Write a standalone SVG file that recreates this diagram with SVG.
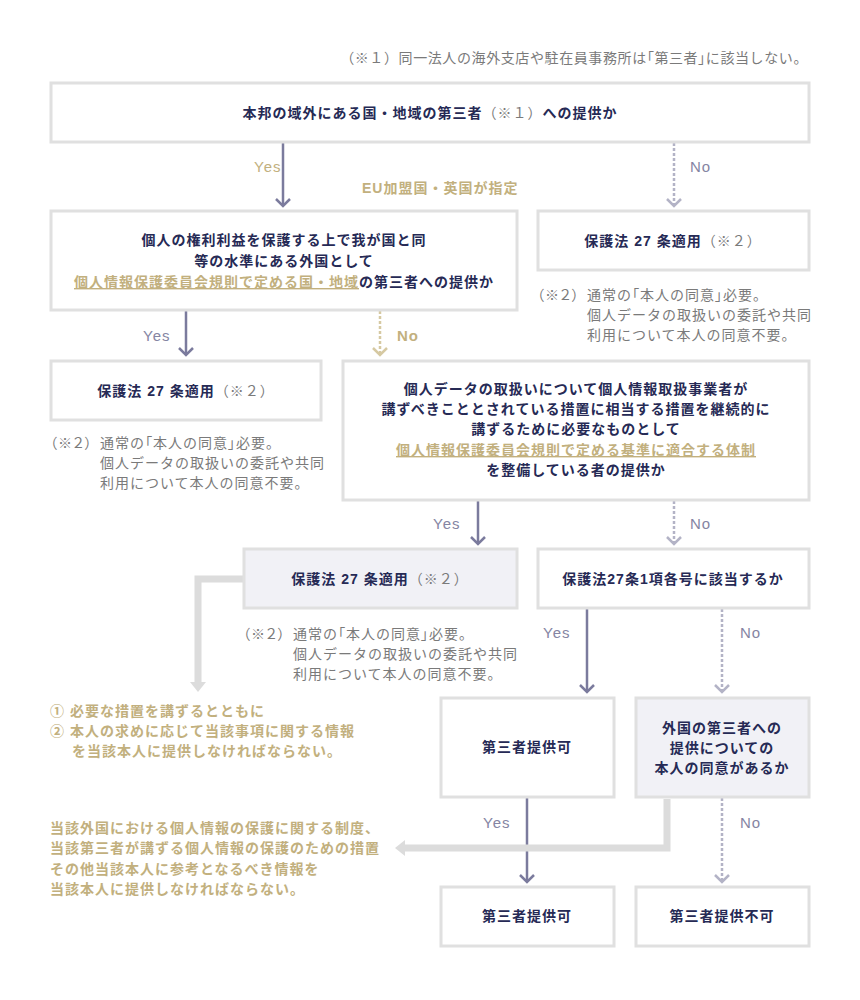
<svg xmlns="http://www.w3.org/2000/svg" width="860" height="1000" viewBox="0 0 860 1000">
<style>
text{font-family:"Liberation Sans","Noto Sans CJK JP",sans-serif;font-size:14px;letter-spacing:1px}
.b{font-weight:bold;fill:#262a55}
.c{text-anchor:middle}
.n{fill:#7a7a7a;font-weight:normal}
.g{fill:#c2b07e;font-weight:bold}
.u{text-decoration:underline}
.p{font-feature-settings:"palt"}
.lbl{font-size:15px;fill:#8585a3}
.lblg{font-size:15px;fill:#c2b07e}
.box{fill:#fff;stroke:#e0e0e0;stroke-width:3}
.fill{fill:#f1f1f6}
.sol{stroke:#7b7b9d;stroke-width:2.5;fill:none;marker-end:url(#ms)}
.dot{stroke:#b3b3c6;stroke-width:2.5;stroke-dasharray:3 2;fill:none;marker-end:url(#md)}
.dotg{stroke:#d6c9a2;stroke-width:2.5;stroke-dasharray:3 2;fill:none;marker-end:url(#mg)}
.thick{stroke:#dcdcdc;stroke-width:7;fill:none;marker-end:url(#mt)}
</style>
<defs>
<marker id="ms" markerUnits="userSpaceOnUse" orient="auto" viewBox="-10 -10 12 20" refX="0" refY="0" markerWidth="12" markerHeight="20"><path d="M-7,-7 L0,0 L-7,7" fill="none" stroke="#7b7b9d" stroke-width="2.5"/></marker>
<marker id="md" markerUnits="userSpaceOnUse" orient="auto" viewBox="-10 -10 12 20" refX="0" refY="0" markerWidth="12" markerHeight="20"><path d="M-7,-7 L0,0 L-7,7" fill="none" stroke="#b3b3c6" stroke-width="2.5"/></marker>
<marker id="mg" markerUnits="userSpaceOnUse" orient="auto" viewBox="-10 -10 12 20" refX="0" refY="0" markerWidth="12" markerHeight="20"><path d="M-7,-7 L0,0 L-7,7" fill="none" stroke="#d6c9a2" stroke-width="2.5"/></marker>
<marker id="mt" markerUnits="userSpaceOnUse" orient="auto" viewBox="0 -10 12 20" refX="0" refY="0" markerWidth="12" markerHeight="20"><path d="M0,-8 L10,0 L0,8 Z" fill="#dcdcdc"/></marker>
</defs>
<rect width="860" height="1000" fill="#fff"/>

<text x="808" y="63" class="n" text-anchor="end" style="letter-spacing:0.6px">（※１）同一法人の海外支店や駐在員事務所は<tspan class="p">「</tspan>第三者<tspan class="p">」</tspan>に該当しない。</text>

<g id="connectors">
<path class="sol" d="M283,143 V206"/>
<path class="dot" d="M674,143 V206"/>
<path class="sol" d="M186,311 V355"/>
<path class="dotg" d="M380,311 V355"/>
<path class="sol" d="M478,501 V544"/>
<path class="dot" d="M674,501 V544"/>
<path class="sol" d="M587,609 V692"/>
<path class="dot" d="M722,609 V692"/>
<path class="sol" d="M527,798 V882"/>
<path class="dot" d="M722,798 V882"/>
<path class="thick" d="M243,579 H198 V682"/>
<path class="thick" d="M667,799 V848 H405"/>
<text x="254" y="172" class="lblg">Yes</text>
<text x="362" y="193" class="g">EU加盟国・英国が指定</text>
<text x="690" y="172" class="lbl">No</text>
<text x="143" y="341" class="lbl">Yes</text>
<text x="397" y="341" class="lblg" font-weight="bold">No</text>
<text x="433" y="529" class="lbl">Yes</text>
<text x="690" y="529" class="lbl">No</text>
<text x="543" y="638" class="lbl">Yes</text>
<text x="740" y="638" class="lbl">No</text>
<text x="483" y="828" class="lbl">Yes</text>
<text x="740" y="828" class="lbl">No</text>
</g>

<g id="n1">
<rect class="box" x="51" y="83" width="758" height="59"/>
<text x="430" y="118" class="b c">本邦の域外にある国・地域の第三者<tspan class="n">（※１）</tspan>への提供か</text>
</g>

<g id="n2">
<rect class="box" x="51" y="211" width="466" height="99"/>
<text x="284" y="245" class="b c">個人の権利利益を保護する上で我が国と同</text>
<text x="284" y="266" class="b c">等の水準にある外国として</text>
<text x="284" y="287" class="b c"><tspan class="g u" font-weight="normal">個人情報保護委員会規則で定める国・地域</tspan>の第三者への提供か</text>
</g>

<g id="n3">
<rect class="box" x="538" y="211" width="271" height="59"/>
<text x="673" y="246" class="b c">保護法 27 条適用<tspan class="n">（※２）</tspan></text>
<text x="537" y="300" class="n"><tspan class="p">（※２）</tspan><tspan x="587">通常の<tspan class="p">「</tspan>本人の同意<tspan class="p">」</tspan>必要。</tspan></text>
<text x="587" y="320" class="n">個人データの取扱いの委託や共同</text>
<text x="587" y="340" class="n">利用について本人の同意不要。</text>
</g>

<g id="n4">
<rect class="box" x="51" y="361" width="270" height="59"/>
<text x="186" y="396" class="b c">保護法 27 条適用<tspan class="n">（※２）</tspan></text>
<text x="50" y="448" class="n"><tspan class="p">（※２）</tspan><tspan x="100">通常の<tspan class="p">「</tspan>本人の同意<tspan class="p">」</tspan>必要。</tspan></text>
<text x="100" y="468" class="n">個人データの取扱いの委託や共同</text>
<text x="100" y="488" class="n">利用について本人の同意不要。</text>
</g>

<g id="n5">
<rect class="box" x="343" y="361" width="466" height="139"/>
<text x="576" y="394" class="b c">個人データの取扱いについて個人情報取扱事業者が</text>
<text x="576" y="414" class="b c">講ずべきこととされている措置に相当する措置を継続的に</text>
<text x="576" y="434" class="b c">講ずるために必要なものとして</text>
<text x="576" y="455" class="g c u" font-weight="normal">個人情報保護委員会規則で定める基準に適合する体制</text>
<text x="576" y="475" class="b c">を整備している者の提供か</text>
</g>

<g id="n6">
<rect class="box fill" x="244" y="549" width="273" height="59"/>
<text x="380" y="584" class="b c">保護法 27 条適用<tspan class="n">（※２）</tspan></text>
<text x="243" y="639" class="n"><tspan class="p">（※２）</tspan><tspan x="293">通常の<tspan class="p">「</tspan>本人の同意<tspan class="p">」</tspan>必要。</tspan></text>
<text x="293" y="659" class="n">個人データの取扱いの委託や共同</text>
<text x="293" y="679" class="n">利用について本人の同意不要。</text>
</g>

<g id="n7">
<rect class="box" x="538" y="549" width="271" height="59"/>
<text x="673" y="584" class="b c">保護法27条1項各号に該当するか</text>
</g>

<g id="note1">
<text x="50" y="716" class="g">① 必要な措置を講ずるとともに</text>
<text x="50" y="736" class="g">② 本人の求めに応じて当該事項に関する情報</text>
<text x="72" y="756" class="g">を当該本人に提供しなければならない。</text>
</g>

<g id="n8">
<rect class="box" x="441" y="698" width="173" height="99"/>
<text x="527" y="752" class="b c">第三者提供可</text>
</g>

<g id="n9">
<rect class="box fill" x="636" y="698" width="173" height="99"/>
<text x="722" y="733" class="b c">外国の第三者への</text>
<text x="722" y="753" class="b c">提供についての</text>
<text x="722" y="773" class="b c">本人の同意があるか</text>
</g>

<g id="note2">
<text x="50" y="833" class="g">当該外国における個人情報の保護に関する制度、</text>
<text x="50" y="853" class="g">当該第三者が講ずる個人情報の保護のための措置</text>
<text x="50" y="874" class="g">その他当該本人に参考となるべき情報を</text>
<text x="50" y="894" class="g">当該本人に提供しなければならない。</text>
</g>

<g id="n10">
<rect class="box" x="441" y="887" width="173" height="59"/>
<text x="527" y="921" class="b c">第三者提供可</text>
</g>

<g id="n11">
<rect class="box" x="636" y="887" width="173" height="59"/>
<text x="722" y="921" class="b c">第三者提供不可</text>
</g>
</svg>
